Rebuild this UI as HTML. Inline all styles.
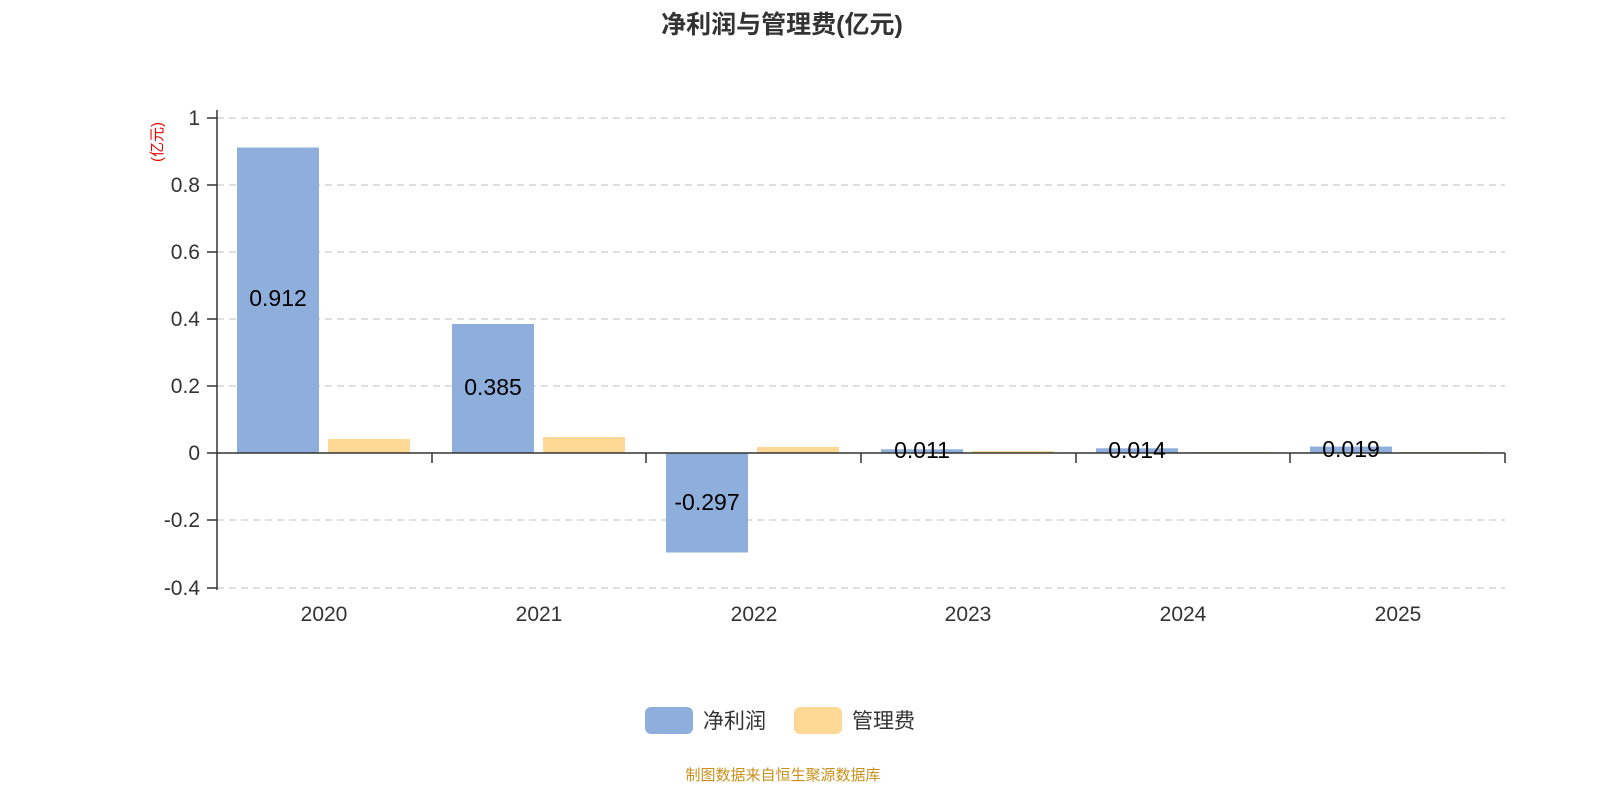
<!DOCTYPE html>
<html><head><meta charset="utf-8"><style>
html,body{margin:0;background:#fff;overflow:hidden;width:1600px;height:800px;}
svg{display:block;font-family:"Liberation Sans","Noto Sans CJK SC",sans-serif;}
</style></head><body>
<svg width="1600" height="800" viewBox="0 0 1600 800">
<text x="782" y="33" text-anchor="middle" font-size="25" font-weight="bold" fill="#333">净利润与管理费(亿元)</text>
<text transform="translate(162,142) rotate(-90)" text-anchor="middle" font-size="15" fill="#e00">(亿元)</text>
<g stroke="#ccc" stroke-width="1.3" stroke-dasharray="7,5">
<line x1="217" y1="118" x2="1505" y2="118"/>
<line x1="217" y1="185" x2="1505" y2="185"/>
<line x1="217" y1="252" x2="1505" y2="252"/>
<line x1="217" y1="319" x2="1505" y2="319"/>
<line x1="217" y1="386" x2="1505" y2="386"/>
<line x1="217" y1="520" x2="1505" y2="520"/>
<line x1="217" y1="588" x2="1505" y2="588"/>
</g>
<g fill="#8eaedb">
<rect x="237" y="147.5" width="82" height="305.5"/>
<rect x="452" y="324" width="82" height="129"/>
<rect x="666" y="453" width="82" height="99.5"/>
<rect x="881" y="449.3" width="82" height="3.7"/>
<rect x="1096" y="448.3" width="82" height="4.7"/>
<rect x="1310" y="446.6" width="82" height="6.4"/>
</g>
<g fill="#fed995">
<rect x="328" y="439" width="82" height="14"/>
<rect x="543" y="437" width="82" height="16"/>
<rect x="757" y="447" width="82" height="6"/>
<rect x="972" y="451" width="82" height="2"/>
<rect x="1187" y="452" width="82" height="1"/>
<rect x="1401" y="452" width="82" height="1"/>
</g>
<g stroke="#333" stroke-width="1.5">
<line x1="217" y1="110" x2="217" y2="590"/>
<line x1="217" y1="453" x2="1505" y2="453"/>
<line x1="207" y1="118" x2="217" y2="118"/>
<line x1="207" y1="185" x2="217" y2="185"/>
<line x1="207" y1="252" x2="217" y2="252"/>
<line x1="207" y1="319" x2="217" y2="319"/>
<line x1="207" y1="386" x2="217" y2="386"/>
<line x1="207" y1="453" x2="217" y2="453"/>
<line x1="207" y1="520" x2="217" y2="520"/>
<line x1="207" y1="588" x2="217" y2="588"/>
<line x1="432" y1="453" x2="432" y2="463"/>
<line x1="646" y1="453" x2="646" y2="463"/>
<line x1="861" y1="453" x2="861" y2="463"/>
<line x1="1076" y1="453" x2="1076" y2="463"/>
<line x1="1290" y1="453" x2="1290" y2="463"/>
<line x1="1505" y1="453" x2="1505" y2="463"/>
</g>
<g font-size="21" fill="#333" text-anchor="end">
<text x="200" y="125">1</text>
<text x="200" y="192">0.8</text>
<text x="200" y="259">0.6</text>
<text x="200" y="326">0.4</text>
<text x="200" y="393">0.2</text>
<text x="200" y="460">0</text>
<text x="200" y="527">-0.2</text>
<text x="200" y="595">-0.4</text>
</g>
<g font-size="21" fill="#333" text-anchor="middle">
<text x="324" y="621">2020</text>
<text x="539" y="621">2021</text>
<text x="754" y="621">2022</text>
<text x="968" y="621">2023</text>
<text x="1183" y="621">2024</text>
<text x="1398" y="621">2025</text>
</g>
<g font-size="23" fill="#000" text-anchor="middle">
<text x="278" y="306">0.912</text>
<text x="493" y="395">0.385</text>
<text x="707" y="510">-0.297</text>
<text x="922" y="458">0.011</text>
<text x="1137" y="458">0.014</text>
<text x="1351" y="457">0.019</text>
</g>
<rect x="645" y="707" width="48" height="27" rx="6" fill="#8eaedb"/>
<text x="703" y="728" font-size="21" fill="#333">净利润</text>
<rect x="794" y="707" width="48" height="27" rx="6" fill="#fed995"/>
<text x="852" y="728" font-size="21" fill="#333">管理费</text>
<text x="783" y="780" text-anchor="middle" font-size="15" fill="#c8901a">制图数据来自恒生聚源数据库</text>
</svg>
</body></html>
